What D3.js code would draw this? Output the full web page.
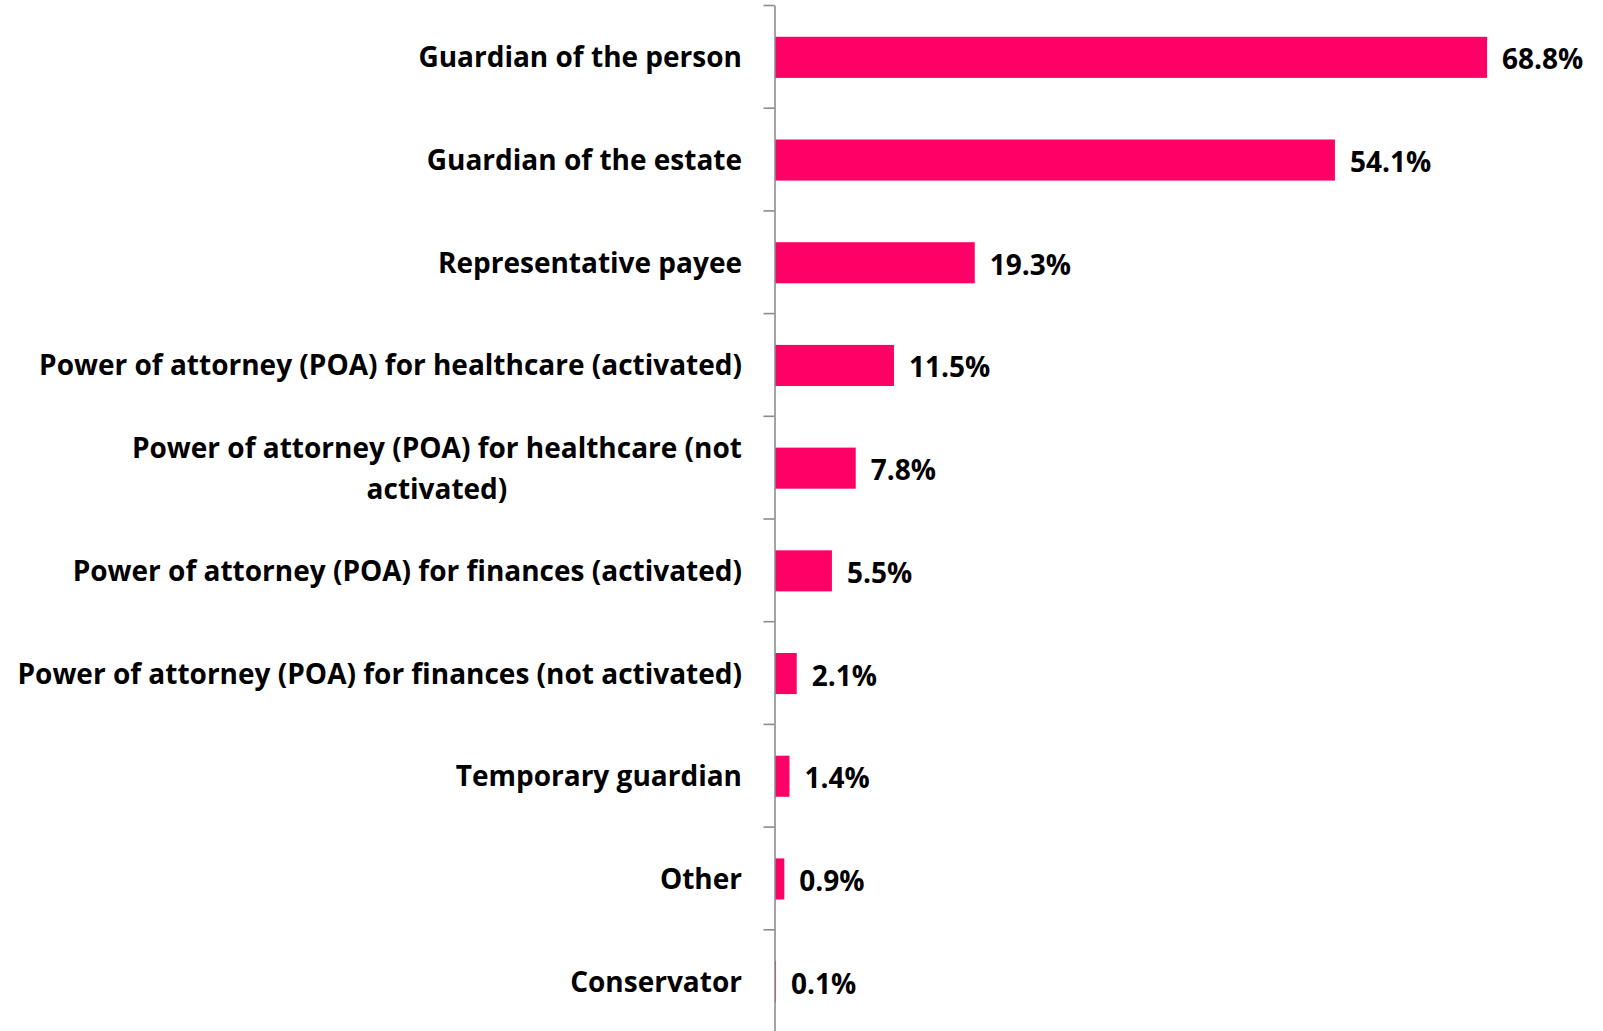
<!DOCTYPE html>
<html>
<head>
<meta charset="utf-8">
<script src="https://cdn.jsdelivr.net/npm/d3@7"></script>
<style>
  html, body { margin: 0; padding: 0; background: #fff; }
  svg { display: block; }
  text { font-family: "Open Sans", Lato, sans-serif; font-weight: 700; fill: #000; }
</style>
</head>
<body>
<svg id="chart" width="1603" height="1031"></svg>
<script>
const categories = [
  "Guardian of the person",
  "Guardian of the estate",
  "Representative payee",
  "Power of attorney (POA) for healthcare (activated)",
  "Power of attorney (POA) for healthcare (not\nactivated)",
  "Power of attorney (POA) for finances (activated)",
  "Power of attorney (POA) for finances (not activated)",
  "Temporary guardian",
  "Other",
  "Conservator"
];
const values = [68.8, 54.1, 19.3, 11.5, 7.8, 5.5, 2.1, 1.4, 0.9, 0.1];
const valueLabels = ["68.8%", "54.1%", "19.3%", "11.5%", "7.8%", "5.5%", "2.1%", "1.4%", "0.9%", "0.1%"];
const xDomain = [0, 80];

const svg = d3.select("#chart");
const W = 1603, H = 1031;
const plotTop = 5, plotBottom = 1032, axisX = 774.5;
const fontSize = 28;

const x = d3.scaleLinear().domain(xDomain).range([775, W]);
const y = d3.scaleBand().domain(categories).range([plotTop, plotBottom])
  .paddingInner(0.6).paddingOuter(0.3);
const yTicks = d3.scaleLinear().domain([0, categories.length]).range([plotTop, plotBottom]);

// bars
svg.append("g").selectAll("rect").data(categories).join("rect")
  .attr("x", x(0))
  .attr("y", d => y(d) + 1)
  .attr("width", (d, i) => x(values[i]) - x(0))
  .attr("height", y.bandwidth())
  .attr("fill", "#FF0066");

// axis
const axis = svg.append("g").attr("transform", `translate(${axisX},0)`)
  .call(d3.axisLeft(yTicks).tickValues(d3.range(categories.length + 1)).tickFormat("").tickSize(11).tickSizeOuter(0));
axis.selectAll("path, line").attr("stroke", "#8c8c8c").attr("stroke-width", 1.6);

// category labels
const labelX = 742;
const lineH = 41;
svg.append("g").selectAll("text").data(categories).join("text")
  .attr("font-size", fontSize)
  .attr("dominant-baseline", "central")
  .each(function(d) {
    const lines = d.split("\n");
    const t = d3.select(this);
    const cy = y(d) + y.bandwidth() / 2;
    if (lines.length === 1) {
      t.attr("x", labelX).attr("y", cy).attr("text-anchor", "end").text(d);
    } else {
      const tmp = t.append("tspan").text(lines[0]);
      const w0 = tmp.node().getComputedTextLength();
      tmp.remove();
      const center = labelX - w0 / 2;
      lines.forEach((ln, k) => {
        t.append("tspan")
          .attr("x", center)
          .attr("y", cy + (k - (lines.length - 1) / 2) * lineH)
          .attr("text-anchor", "middle")
          .text(ln);
      });
    }
  });

// value labels
svg.append("g").selectAll("text").data(categories).join("text")
  .attr("font-size", fontSize)
  .attr("dominant-baseline", "central")
  .attr("x", (d, i) => x(values[i]) + 15)
  .attr("y", d => y(d) + y.bandwidth() / 2 + 2)
  .text((d, i) => valueLabels[i]);
</script>
</body>
</html>
